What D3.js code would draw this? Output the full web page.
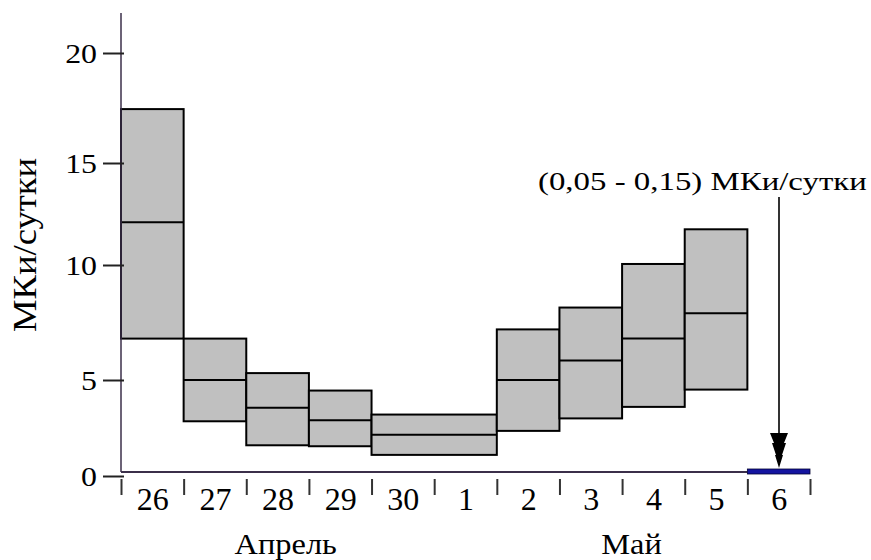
<!DOCTYPE html>
<html><head><meta charset="utf-8">
<script src="https://cdn.jsdelivr.net/npm/d3@7"></script>
</head>
<body style="margin:0">
<svg id="c" width="871" height="560"></svg>
<script>
// ---- data ----
const days = ["26","27","28","29","30","1","2","3","4","5","6"];
const months = ["Апрель","Май"];
const monthCenterDay = [2.63, 8.15]; // day-index position where each month label is centred
const yTicks = [0,5,10,15,20];
const boxStartDay = ["26","27","28","29","30","2","3","4","5"];
const boxSpanDays = [1,1,1,1,2,1,1,1,1];
const lower  = [6.8, 2.85, 1.6, 1.55, 1.1, 2.35, 3.0, 3.6, 4.5];
const median = [12.1, 5.0, 3.55, 2.9, 2.15, 5.0, 5.85, 6.8, 7.9];
const upper  = [17.45, 6.8, 5.3, 4.45, 3.2, 7.2, 8.15, 10.05, 11.75];
const lastDay = "6";
const lastRange = [0.05, 0.15];
const yLabel = "МКи/сутки";
const annotation = "(0,05 - 0,15) МКи/сутки";

const FONT = "Liberation Serif";

// ---- scales ----
const svg = d3.select("#c");
const x = d3.scaleLinear().domain([0, days.length]).range([121, 810]);
const y = d3.scaleLinear().domain(yTicks).range([476, 380, 265, 163, 53]);
const baseY = y(0) - 4;
const axisColor = "#3b2f4a";

function fit(sel, target){ // horizontal scale so the text spans `target` px
  const n = sel.node(); const len = n.getComputedTextLength();
  return len > 0 ? target/len : 1;
}

// ---- boxes ----
const boxes = boxStartDay.map((d,i)=>({i0: days.indexOf(d), span: boxSpanDays[i], lo: lower[i], md: median[i], hi: upper[i]}));
const g = svg.append("g");
g.selectAll("rect.box").data(boxes).join("rect")
  .attr("class","box")
  .attr("x", d=>x(d.i0)).attr("width", d=>x(d.i0+d.span)-x(d.i0))
  .attr("y", d=>y(d.hi)).attr("height", d=>y(d.lo)-y(d.hi))
  .attr("fill","#c0c0c0").attr("stroke","#000").attr("stroke-width",2);
g.selectAll("line.med").data(boxes).join("line")
  .attr("class","med")
  .attr("x1", d=>x(d.i0)).attr("x2", d=>x(d.i0+d.span))
  .attr("y1", d=>y(d.md)).attr("y2", d=>y(d.md))
  .attr("stroke","#000").attr("stroke-width",2);

// ---- y axis ----
svg.append("line").attr("x1",121).attr("x2",121).attr("y1",13).attr("y2",baseY)
  .attr("stroke",axisColor).attr("stroke-width",1.5);
const yAx = svg.append("g").attr("transform","translate(124,0)")
  .call(d3.axisLeft(y).tickValues(yTicks).tickSize(21).tickFormat(d3.format("d")));
yAx.attr("font-family", FONT).attr("font-size", 27);
yAx.select(".domain").remove();
yAx.selectAll(".tick line").attr("stroke","#222").attr("stroke-width",2);
yAx.selectAll(".tick text")
  .attr("font-family", FONT).attr("font-size", 27)
  .attr("fill","#000").attr("dy","0.34em").attr("text-anchor","end")
  .attr("transform","scale(1.18,1)")
  .attr("x", (97-124)/1.18);

// ---- x axis ----
svg.append("line").attr("x1",121).attr("x2",x(days.length-1)).attr("y1",baseY).attr("y2",baseY)
  .attr("stroke",axisColor).attr("stroke-width",2);
const xAx = svg.append("g").attr("transform","translate(0,479)")
  .call(d3.axisBottom(x).tickValues(d3.range(days.length+1)).tickSize(16).tickFormat(""));
xAx.select(".domain").remove();
xAx.selectAll(".tick line").attr("stroke","#333").attr("stroke-width",2);
const xLab = svg.append("g").attr("transform","translate(0,510)")
  .call(d3.axisBottom(x).tickValues(d3.range(days.length).map(i=>i+0.5)).tickSize(0).tickFormat(v=>days[Math.floor(v)]));
xLab.attr("font-family", FONT).attr("font-size", 32);
xLab.select(".domain").remove();
xLab.selectAll(".tick text").attr("y",0).attr("dy",0)
  .attr("font-family", FONT).attr("font-size", 32).attr("fill","#000");

// month labels
svg.selectAll("text.month").data(months).join("text")
  .attr("class","month")
  .attr("transform",(d,i)=>`translate(${x(monthCenterDay[i])},554) scale(1.08,1)`)
  .attr("text-anchor","middle").attr("font-family", FONT).attr("font-size", 30).text(d=>d);

// y label
const yl = svg.append("text")
  .attr("text-anchor","middle").attr("font-family", FONT).attr("font-size", 34).text(yLabel);
yl.attr("transform",`translate(36,245) rotate(-90) scale(${fit(yl,174)},1)`);

// ---- last day range (6 May) ----
const li = days.indexOf(lastDay);
svg.append("rect").attr("x",x(li)).attr("width",x(li+1)-x(li))
  .attr("y", Math.min(y(lastRange[1]), baseY-3)).attr("height",5)
  .attr("fill","#1414a0").attr("stroke","#000033").attr("stroke-width",0.8);

// annotation + arrow
const ax = 779;
const an = svg.append("text").attr("font-family", FONT).attr("font-size", 26).text(annotation);
an.attr("transform",`translate(538,190) scale(${fit(an,329)},1)`);
svg.append("line").attr("x1",ax).attr("x2",ax).attr("y1",197).attr("y2",440)
  .attr("stroke","#333").attr("stroke-width",2);
svg.append("path")
  .attr("d",`M${ax-9},433 L${ax+9},433 L${ax+5},443 L${ax+7},443 L${ax+3},455 L${ax+4},455 L${ax},468 L${ax-4},455 L${ax-3},455 L${ax-7},443 L${ax-5},443 Z`)
  .attr("fill","#000");
</script>
</body></html>
